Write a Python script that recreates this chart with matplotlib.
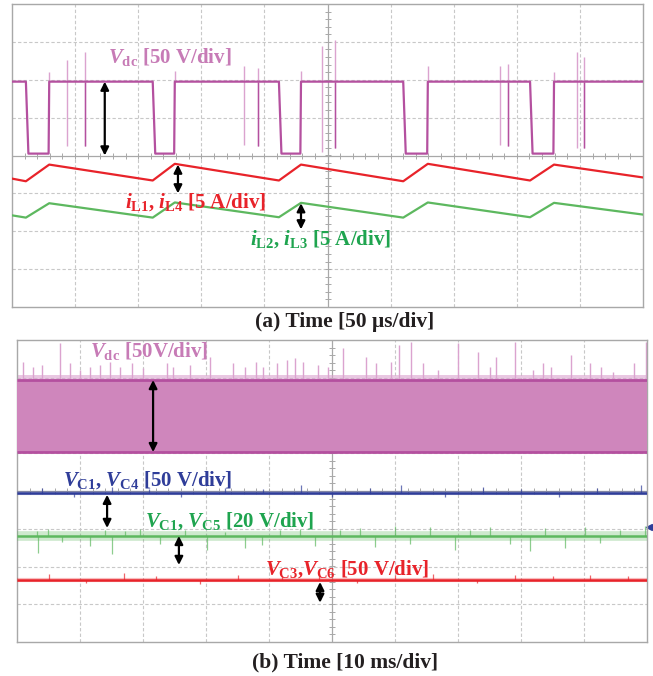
import matplotlib
matplotlib.use("Agg")
import matplotlib.pyplot as plt
import numpy as np

plt.rcParams["font.family"] = ["Liberation Serif", "DejaVu Serif"]
plt.rcParams["font.weight"] = "bold"
plt.rcParams["mathtext.fontset"] = "custom"
plt.rcParams["mathtext.rm"] = "Liberation Serif:bold"
plt.rcParams["mathtext.it"] = "Liberation Serif:italic:bold"
plt.rcParams["mathtext.bf"] = "Liberation Serif:bold"

# ---- panel (a): 50 us/div, values in divisions ----
vdc_high = 1.95
vdc_low = 0.05
pulse_start = [0.22, 2.23, 4.23, 6.20, 8.21]
pulse_end = [0.59, 2.58, 4.58, 6.59, 8.59]
edge_overshoot = [2.20, 2.22, 2.24, 2.35, 2.20]       # rising-edge spike tops
spike_t = [0.87, 1.16, 3.68, 3.90, 4.91, 5.12, 7.73, 7.86, 8.95, 9.06]
spike_top = [2.53, 2.74, 2.35, 2.32, 2.90, 3.06, 2.35, 2.41, 2.74, 2.60]
spike_bot = [0.24, 0.24, 0.29, 0.24, 0.10, 0.21, 0.29, 0.24, 0.21, 0.21]

il14_t = [0, 0.22, 0.59, 2.23, 2.58, 4.23, 4.58, 6.20, 6.59, 8.21, 8.59, 10]
il14_v = [-0.61, -0.68, -0.24, -0.66, -0.22, -0.66, -0.24, -0.68, -0.22, -0.66, -0.24, -0.58]
il23_t = [0, 0.22, 0.59, 2.23, 2.58, 4.23, 4.58, 6.20, 6.59, 8.21, 8.59, 10]
il23_v = [-1.58, -1.64, -1.26, -1.64, -1.24, -1.63, -1.25, -1.64, -1.24, -1.63, -1.25, -1.56]

# ---- panel (b): 10 ms/div ----
vdc_band_top = 2.94
vdc_band_bot = 1.03
vdc_spk_t = [0.10, 0.26, 0.39, 0.68, 0.84, 1.00, 1.16, 1.32, 1.48, 1.63, 1.82, 2.00,
             2.38, 2.48, 2.75, 3.06, 3.43, 3.62, 3.80, 3.91, 4.12, 4.28, 4.41, 4.54,
             4.78, 4.94, 5.17, 5.54, 5.70, 5.94, 6.07, 6.26, 6.44, 6.68, 7.00, 7.32,
             7.50, 7.61, 7.90, 8.19, 8.35, 8.48, 8.80, 9.09, 9.27, 9.46, 9.80, 9.99]
vdc_spk_v = [3.42, 3.29, 3.33, 3.91, 3.38, 3.20, 3.29, 3.33, 3.42, 3.29, 3.38, 3.25,
             3.38, 3.29, 3.33, 3.55, 3.38, 3.29, 3.42, 3.29, 3.38, 3.47, 3.51, 3.42,
             3.33, 3.29, 3.78, 3.55, 3.38, 3.42, 3.86, 3.95, 3.38, 3.20, 3.91, 3.69,
             3.29, 3.55, 3.95, 3.20, 3.38, 3.29, 3.60, 3.38, 3.29, 3.16, 3.38, 3.95]

vc14_level = -0.05
vc14_spk_t = [0.4, 0.9, 1.5, 2.1, 2.6, 3.3, 3.9, 4.5, 5.0, 5.6, 6.1, 6.8, 7.4, 8.0, 8.6, 9.2, 9.9]
vc14_spk_a = [0.12, -0.10, 0.15, 0.10, -0.12, 0.14, 0.10, 0.20, -0.10, 0.12, 0.20, -0.10, 0.15, 0.10, -0.12, 0.12, 0.22]

vc15_level = -1.19
vc15_spk_t = [0.32, 0.33, 0.49, 0.71, 1.16, 1.40, 1.51, 1.71, 1.95, 2.27, 2.67, 3.02,
              3.30, 3.62, 3.89, 4.17, 4.49, 4.73, 5.13, 5.44, 5.68, 6.00, 6.24, 6.56,
              6.95, 7.19, 7.51, 7.83, 8.14, 8.38, 8.70, 9.02, 9.25, 9.57, 9.97]
vc15_spk_a = [0.13, -0.45, 0.19, -0.16, -0.26, 0.16, -0.48, 0.13, 0.19, -0.21, 0.16, -0.37,
              0.11, -0.32, -0.24, 0.16, 0.19, -0.26, 0.16, 0.21, -0.29, 0.26, -0.21, 0.24,
              -0.37, 0.16, 0.24, -0.21, -0.40, 0.21, -0.32, 0.24, -0.19, 0.16, 0.26]

vc36_level = -2.35
vc36_spk_t = [0.5, 1.1, 1.7, 2.2, 2.9, 3.5, 4.2, 4.8, 5.4, 6.0, 6.6, 7.3, 7.9, 8.5, 9.1, 9.7]
vc36_spk_a = [0.15, -0.10, 0.18, 0.10, -0.12, 0.13, 0.10, 0.16, -0.10, 0.12, 0.14, -0.10, 0.12, 0.10, 0.13, 0.10]

PINK = "#b4509f"
PINK_LT = "#dba3cf"
PINK_TXT = "#c77bb6"
FILL = "#cf86bc"
RED = "#e8232a"
GREEN = "#5db85f"
GREEN_TXT = "#1fa44f"
BLUE = "#2f3d99"


def scope_axes(ax):
    ax.set_xlim(0, 10)
    ax.set_ylim(-4, 4)
    ax.set_xticks([])
    ax.set_yticks([])
    for s in ax.spines.values():
        s.set_color("#a8a8a8")
        s.set_linewidth(1.0)
    for x in range(1, 10):
        if x != 5:
            ax.axvline(x, color="#c8c8c8", lw=0.8, ls=(0, (3, 2)), zorder=0)
    for y in range(-3, 4):
        if y != 0:
            ax.axhline(y, color="#c8c8c8", lw=0.8, ls=(0, (3, 2)), zorder=0)
    ax.axvline(5, color="#a8a8a8", lw=0.9, zorder=0)
    ax.axhline(0, color="#a8a8a8", lw=0.9, zorder=0)
    minor = np.arange(0.2, 10, 0.2)
    ax.plot(minor, np.zeros_like(minor), ls="none", marker="|", ms=4, color="#a8a8a8", mew=0.7, zorder=0)
    minor_y = np.arange(-3.8, 4, 0.2)
    ax.plot(np.full_like(minor_y, 5), minor_y, ls="none", marker="_", ms=4, color="#a8a8a8", mew=0.7, zorder=0)


def dbl_arrow(ax, x, y0, y1):
    ax.annotate("", xy=(x, y1), xytext=(x, y0),
                arrowprops=dict(arrowstyle="<|-|>", color="black", lw=1.6,
                                mutation_scale=12, shrinkA=0, shrinkB=0), zorder=6)


fig = plt.figure(figsize=(6.53, 6.76), dpi=100)

# ---------------- (a) ----------------
ax1 = fig.add_axes([12 / 653, 369 / 676, 631 / 653, 303 / 676])
scope_axes(ax1)

t = [0.0]
v = [vdc_high]
for s, e in zip(pulse_start, pulse_end):
    t += [s, s + 0.04, e - 0.01, e]
    v += [vdc_high, vdc_low, vdc_low, vdc_high]
t.append(10.0)
v.append(vdc_high)
ax1.plot(t, v, color=PINK, lw=1.6, zorder=3)
ax1.vlines(pulse_end, vdc_high, edge_overshoot, color=PINK_LT, lw=1.0, zorder=2)
ax1.vlines(spike_t, spike_bot, spike_top, color=PINK_LT, lw=1.0, zorder=2)
ax1.vlines(spike_t[1::2], spike_bot[1::2], vdc_high, color=PINK, lw=1.0, zorder=2)

ax1.plot(il14_t, il14_v, color=RED, lw=1.6, zorder=3)
ax1.plot(il23_t, il23_v, color=GREEN, lw=1.6, zorder=3)

ax1.text(1.52, 2.59, r"$V_{\mathrm{dc}}$ [50 V/div]", color=PINK_TXT, fontsize=15,
         ha="left", va="center", zorder=5)
ax1.text(1.79, -1.24, r"$i_{\mathrm{L1}}$, $i_{\mathrm{L4}}$ [5 A/div]", color=RED, fontsize=15,
         ha="left", va="center", zorder=5)
ax1.text(3.77, -2.22, r"$i_{\mathrm{L2}}$, $i_{\mathrm{L3}}$ [5 A/div]", color=GREEN_TXT, fontsize=15,
         ha="left", va="center", zorder=5)
dbl_arrow(ax1, 1.47, vdc_high, 0.0)
dbl_arrow(ax1, 2.63, -0.24, -1.0)
dbl_arrow(ax1, 4.58, -1.26, -1.95)

fig.text(345 / 653, (676 - 322) / 676, "(a) Time [50 μs/div]", ha="center", va="center",
         fontsize=15.5, color="#231f20")

# ---------------- (b) ----------------
ax2 = fig.add_axes([17 / 653, 34 / 676, 630 / 653, 302 / 676])
scope_axes(ax2)

ax2.vlines(vdc_spk_t, vdc_band_top, vdc_spk_v, color=PINK_LT, lw=1.0, zorder=2)
ax2.fill_between([0, 10], vdc_band_top, vdc_band_top + 0.12, color=PINK_LT, alpha=0.6, lw=0, zorder=2)
ax2.fill_between([0, 10], vdc_band_bot, vdc_band_top, color=FILL, lw=0, zorder=3)
ax2.hlines([vdc_band_top, vdc_band_bot], 0, 10, color=PINK, lw=2.0, zorder=3)

for level, st, sa, col, fuzz in [(vc14_level, vc14_spk_t, vc14_spk_a, BLUE, 3.0),
                                  (vc15_level, vc15_spk_t, vc15_spk_a, GREEN, 7.0),
                                  (vc36_level, vc36_spk_t, vc36_spk_a, RED, 3.0)]:
    ax2.hlines(level, 0, 10, color=col, lw=fuzz, alpha=0.3, zorder=3)
    ax2.hlines(level, 0, 10, color=col, lw=1.8, zorder=4)
    ax2.vlines(st, level, np.array(sa) + level, color=col, lw=0.9, alpha=0.7, zorder=3)

ax2.plot([10.03], [-0.95], marker="<", ms=4, color=BLUE, clip_on=False)

ax2.text(1.16, 3.70, r"$V_{\mathrm{dc}}$ [50V/div]", color=PINK_TXT, fontsize=15,
         ha="left", va="center", zorder=5)
ax2.text(0.73, 0.29, r"$V_{\mathrm{C1}}$, $V_{\mathrm{C4}}$ [50 V/div]", color=BLUE, fontsize=15,
         ha="left", va="center", zorder=5)
ax2.text(2.03, -0.79, r"$V_{\mathrm{C1}}$, $V_{\mathrm{C5}}$ [20 V/div]", color=GREEN_TXT, fontsize=15,
         ha="left", va="center", zorder=5)
ax2.text(3.94, -2.06, r"$V_{\mathrm{C3}}$,$V_{\mathrm{C6}}$ [50 V/div]", color=RED, fontsize=15,
         ha="left", va="center", zorder=5)
dbl_arrow(ax2, 2.16, vdc_band_top, vdc_band_bot)
dbl_arrow(ax2, 1.43, -0.10, -0.98)
dbl_arrow(ax2, 2.57, -1.19, -1.96)
dbl_arrow(ax2, 4.81, -2.41, -2.96)

fig.text(345 / 653, (676 - 662) / 676, "(b) Time [10 ms/div]", ha="center", va="center",
         fontsize=15.5, color="#231f20")

fig.savefig("out.png", dpi=100)
